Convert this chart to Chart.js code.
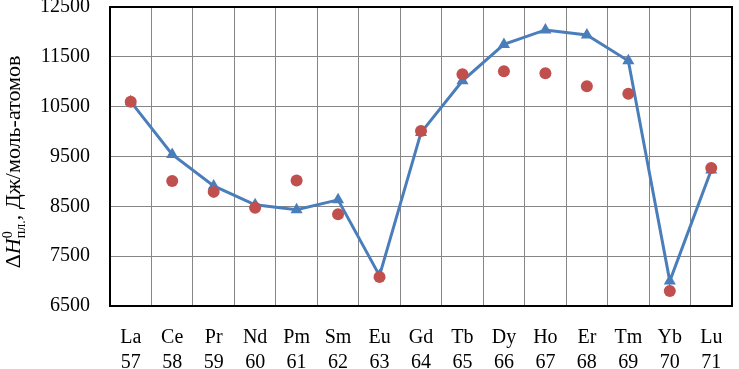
<!DOCTYPE html>
<html>
<head>
<meta charset="utf-8">
<script src="https://cdn.jsdelivr.net/npm/chart.js@4"></script>
<style>
  html, body { margin: 0; padding: 0; background: #fff; }
  #wrap { width: 739px; height: 369px; }
</style>
</head>
<body>
<div id="wrap"><canvas id="c" width="739" height="369"></canvas></div>
<script>
// element symbols and atomic numbers
const elements = ['La', 'Ce', 'Pr', 'Nd', 'Pm', 'Sm', 'Eu', 'Gd', 'Tb', 'Dy', 'Ho', 'Er', 'Tm', 'Yb', 'Lu'];
const atomicNumbers = ['57', '58', '59', '60', '61', '62', '63', '64', '65', '66', '67', '68', '69', '70', '71'];

// blue line with triangles
const lineValues = [10600, 9540, 8910, 8530, 8430, 8630, 7110, 9980, 11020, 11750, 12040, 11940, 11420, 7000, 9230];
// red circles
const dotValues = [10600, 9010, 8790, 8470, 9020, 8340, 7080, 10010, 11150, 11210, 11170, 10910, 10760, 6800, 9270];

const yMin = 6500, yMax = 12500, yStep = 1000;

const serif = "'Liberation Serif', 'Times New Roman', serif";
const labels = elements.map((el, i) => [el, atomicNumbers[i]]);

// black frame round the plot area
const frame = {
  id: 'frame',
  afterDatasetsDraw(chart) {
    const { ctx, chartArea: a } = chart;
    ctx.save();
    ctx.strokeStyle = '#000';
    ctx.lineWidth = 2;
    ctx.strokeRect(a.left, a.top, a.right - a.left, a.bottom - a.top);
    ctx.restore();
  }
};

// rotated axis title with italic H, superscript 0 and subscript "пл."
const yTitle = {
  id: 'yTitle',
  afterDraw(chart) {
    const ctx = chart.ctx;
    const parts = [
      { t: 'Δ', f: '22px ' + serif, dy: 0 },
      { t: 'H', f: 'italic 22px ' + serif, dy: 0 },
      { t: '0', f: '14px ' + serif, dy: -8 },
      { t: 'пл.', f: '14px ' + serif, dy: 5, back: true },
      { t: ', Дж/моль-атомов', f: '22px ' + serif, dy: 0 }
    ];
    ctx.save();
    let total = 0;
    const widths = parts.map(p => { ctx.font = p.f; return ctx.measureText(p.t).width; });
    parts.forEach((p, i) => { total += widths[i]; });
    total -= widths[2];
    ctx.translate(20, 162);
    ctx.rotate(-Math.PI / 2);
    ctx.fillStyle = '#000';
    ctx.textBaseline = 'alphabetic';
    let x = -total / 2;
    parts.forEach((p, i) => {
      ctx.font = p.f;
      if (p.back) x -= widths[2];
      ctx.fillText(p.t, x, p.dy);
      x += widths[i];
    });
    ctx.restore();
  }
};

new Chart(document.getElementById('c'), {
  type: 'line',
  data: {
    labels: labels,
    datasets: [
      {
        label: 'dots',
        data: dotValues,
        showLine: false,
        pointStyle: 'circle',
        pointRadius: 6,
        pointBackgroundColor: '#C0504D',
        pointBorderColor: '#C0504D',
        pointBorderWidth: 0,
        order: 0
      },
      {
        label: 'line',
        data: lineValues,
        borderColor: '#4A7EBB',
        borderWidth: 3,
        tension: 0,
        pointStyle: 'triangle',
        pointRadius: 7,
        pointBackgroundColor: '#4A7EBB',
        pointBorderColor: '#4A7EBB',
        pointBorderWidth: 0,
        order: 1
      }
    ]
  },
  options: {
    responsive: false,
    animation: false,
    layout: { padding: { left: 0, top: 7, right: 1, bottom: 0 } },
    plugins: {
      legend: { display: false },
      tooltip: { enabled: false }
    },
    scales: {
      x: {
        offset: true,
        grid: { offset: true, color: '#868686', lineWidth: 1, drawTicks: false },
        border: { display: false },
        ticks: {
          color: '#000',
          padding: 19,
          maxRotation: 0,
          autoSkip: false,
          font: { family: serif, size: 20, lineHeight: 1.25 }
        },
        afterFit(scale) { scale.height = 63; scale.paddingLeft = 0; scale.paddingRight = 0; }
      },
      y: {
        min: yMin,
        max: yMax,
        grid: { color: '#868686', lineWidth: 1, drawTicks: false },
        border: { display: false },
        ticks: {
          stepSize: yStep,
          color: '#000',
          padding: 20,
          font: { family: serif, size: 20 },
          callback: v => String(v)
        },
        afterFit(scale) { scale.width = 110; scale.paddingTop = 0; scale.paddingBottom = 0; }
      }
    }
  },
  plugins: [frame, yTitle]
});
</script>
</body>
</html>
